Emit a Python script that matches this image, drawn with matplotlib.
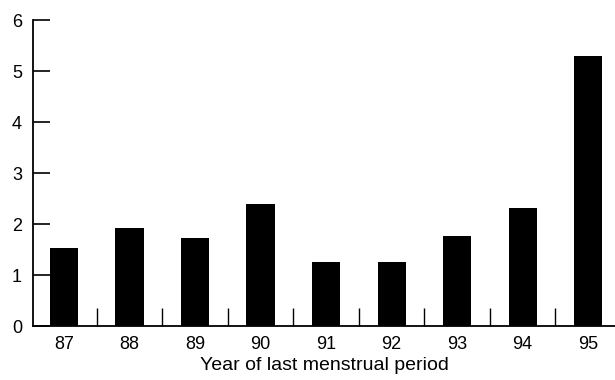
import matplotlib
matplotlib.use("Agg")
import matplotlib.pyplot as plt
import numpy as np

years = [87, 88, 89, 90, 91, 92, 93, 94, 95]
values = [1.53, 1.93, 1.72, 2.40, 1.25, 1.25, 1.77, 2.32, 5.29]
yticks = [0, 1, 2, 3, 4, 5, 6]

plt.rcParams['font.family'] = ['Liberation Sans', 'DejaVu Sans']

fig = plt.figure(figsize=(6.15, 3.8), dpi=100)
ax = fig.add_axes([0.054, 0.142, 0.946, 0.805])

ax.bar(years, values, width=0.43, color="black")

ax.set_xlim(86.53, 95.41)
ax.set_ylim(0, 6)
ax.set_yticks(yticks)
ax.set_xticks(years)
ax.set_xticks(np.array(years[:-1]) + 0.5, minor=True)

ax.spines["top"].set_visible(False)
ax.spines["right"].set_visible(False)
ax.spines["left"].set_linewidth(1.3)
ax.spines["bottom"].set_linewidth(1.3)

ax.tick_params(axis="y", direction="in", length=12, width=1.2, labelsize=13, pad=8)
ax.tick_params(axis="x", which="major", length=0, labelsize=13, pad=7)
ax.tick_params(axis="x", which="minor", direction="in", length=13, width=1.0)

ax.set_xlabel("Year of last menstrual period", fontsize=14, labelpad=3)

fig.savefig("out.png", dpi=100)
